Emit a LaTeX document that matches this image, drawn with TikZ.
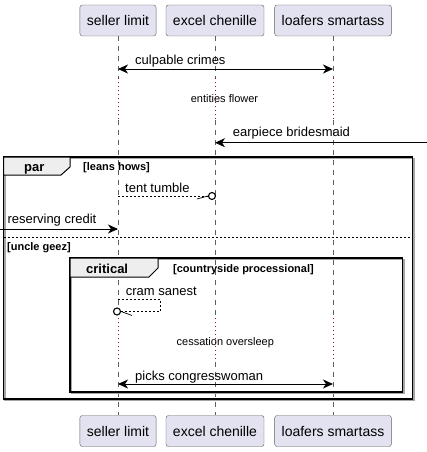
\documentclass[tikz,border=0pt]{standalone}
\usepackage{fontspec}
\setmainfont{Liberation Sans}
\usetikzlibrary{arrows.meta}
\definecolor{pfill}{RGB}{226,226,240}
\definecolor{pline}{RGB}{95,95,95}
\definecolor{tabfill}{RGB}{238,238,238}
\definecolor{dotred}{RGB}{150,0,70}
\tikzset{seq/.style={x=1pt,y=-1pt},
  actor/.style={draw=pline,fill=pfill,rounded corners=2.5pt,minimum height=31pt,inner xsep=7pt,font=\fontsize{14}{16}\selectfont},
  life/.style={pline,line width=0.6pt,dash pattern=on 5pt off 5pt},
  delay/.style={dotred,line width=0.8pt,dash pattern=on 1pt off 3pt},
  msg/.style={line width=0.9pt,-{Stealth[length=10pt,width=9pt,inset=3pt]}},
  bimsg/.style={line width=0.9pt,{Stealth[length=10pt,width=9pt,inset=3pt]}-{Stealth[length=10pt,width=9pt,inset=3pt]}},
  lost/.style={line width=0.7pt,dash pattern=on 2pt off 2pt},
  endo/.style={circle,draw,fill=white,line width=1.1pt,minimum size=7pt,inner sep=0pt},
  lbl/.style={anchor=base west,inner sep=0pt,font=\fontsize{13}{15}\selectfont},
  dlbl/.style={anchor=base,inner sep=0pt,font=\fontsize{11}{13}\selectfont},
  glbl/.style={anchor=base west,inner sep=0pt,font=\bfseries\fontsize{11}{13}\selectfont},
  kind/.style={anchor=base west,inner sep=0pt,font=\bfseries\fontsize{13}{15}\selectfont},
  frm/.style={line width=1.5pt},
  frmshadow/.style={line width=1.5pt,black!35}}

\begin{document}
\begin{tikzpicture}[seq]
  \useasboundingbox (0,0) rectangle (427,452);
  % participants, top and bottom
  \foreach \nm/\x/\txt in {a/118/seller limit,b/215/excel chenille,c/333/loafers smartass}{
    \node[actor] (top\nm) at (\x,20.5) {\txt};
    \node[actor] (bot\nm) at (\x,431) {\txt};
  }
  % rows
  \coordinate (d1s) at (0,78);
  \coordinate (d1e) at (0,120);
  \coordinate (d2s) at (0,318);
  \coordinate (d2e) at (0,362);
  \coordinate (m1) at (0,69);
  \coordinate (rgt) at (427,142.7);
  \coordinate (lft) at (0,229);
  \coordinate (m5) at (0,299);
  \coordinate (m6) at (0,384);
  % lifelines
  \foreach \nm in {a,b,c}{
    \draw[life] (top\nm.south) -- (top\nm |- d1s);
    \draw[delay] (top\nm |- d1s) -- (top\nm |- d1e);
    \draw[life] (top\nm |- d1e) -- (top\nm |- d2s);
    \draw[delay] (top\nm |- d2s) -- (top\nm |- d2e);
    \draw[life] (top\nm |- d2e) -- (bot\nm.north);
  }
  % par frame
  \draw[frmshadow] (5,158.5) rectangle (414,400.5);
  \draw[frm] (3.5,157) rectangle (412.5,399);
  \draw[fill=tabfill,line width=1pt] (3.5,157) -- (70,157) -- (70,167) -- (61,175) -- (3.5,175) -- cycle;
  \node[kind] (kpar) at (24,171) {par};
  \node[glbl] (g1) at (83,170) {[leans hows]};
  \draw[line width=0.7pt,dash pattern=on 2pt off 2pt] (3.5,237) -- (412.5,237);
  \node[glbl] (g2) at (7,250) {[uncle geez]};
  % critical frame
  \draw[frmshadow] (71.5,259.5) rectangle (404,393.5);
  \draw[frm] (70,258) rectangle (402.5,392);
  \draw[fill=tabfill,line width=1pt] (70,258) -- (158,258) -- (158,268) -- (149,277) -- (70,277) -- cycle;
  \node[kind] (kcrit) at (86,273) {critical};
  \node[glbl] (g3) at (173,272) {[countryside processional]};
  % messages
  \draw[bimsg] (topa |- m1) -- (topc |- m1);
  \node[lbl] (l1) at (135,64.3) {culpable crimes};
  \node[dlbl] (dl1) at (224.5,102) {entities flower};
  \draw[msg] (rgt) -- (topb |- rgt);
  \node[lbl] (l2) at (232.7,136.7) {earpiece bridesmaid};
  \node[endo] (o1) at (212,196) {};
  \draw[lost] (topa |- o1) -- (o1.west);
  \draw[line width=0.7pt] (o1.west) -- ++(-11,3);
  \node[lbl] (l3) at (125,192.3) {tent tumble};
  \draw[msg] (lft) -- (topa |- lft);
  \node[lbl] (l4) at (7.3,223) {reserving credit};
  \node[endo] (o2) at (117,311.5) {};
  \draw[lost] (topa |- m5) -- ++(42,0) -- ++(0,12.5) -- (o2.east);
  \draw[line width=0.7pt] (o2.east) -- ++(11,4);
  \node[lbl] (l5) at (125.7,295) {cram sanest};
  \node[dlbl] (dl2) at (225.3,345) {cessation oversleep};
  \draw[bimsg] (topa |- m6) -- (topc |- m6);
  \node[lbl] (l6) at (135,380) {picks congresswoman};
\end{tikzpicture}
\end{document}
